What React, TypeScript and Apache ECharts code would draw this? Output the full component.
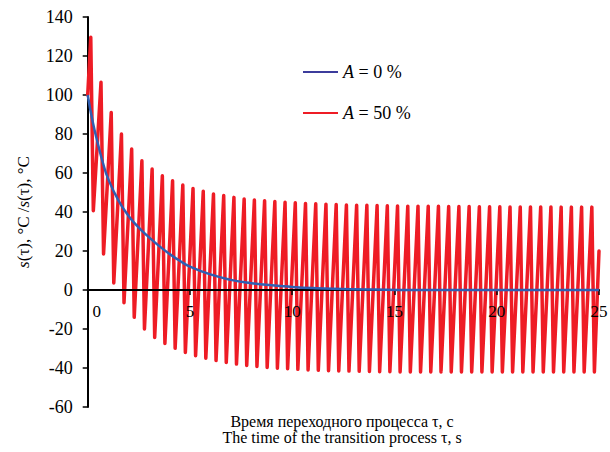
import React, { useEffect, useRef } from "react";
import * as echarts from "echarts";

// Blue curve (A = 0 %), read at these times
const blueTimes = [0, 0.25, 0.5, 0.75, 1, 1.5, 2, 2.5, 3, 3.5, 4, 4.5, 5, 6, 7, 8, 9, 10, 11, 12, 14, 16, 20, 25];
const blueValues = [100, 86, 75, 65, 57, 46, 38, 32, 27, 22.5, 18.5, 15, 12, 8, 5.2, 3.5, 2.4, 1.6, 1.0, 0.6, 0.2, 0, 0, 0];

// Red curve (A = 50 %): extrema
const OSC_PERIOD = 0.5;
const PEAK_PHASE = 0.15;
const TROUGH_PHASE = 0.275;
const redStart = [0, 100];
const redEnd = [25, 20];
const redPeaks = [
  129.6, 106.5, 91, 80, 72.3, 66.3, 62, 58.6, 56, 53.8, 52.1, 50.6, 49.2, 48.4, 47.5, 46.7, 46.2,
  45.8, 45.4, 45, 44.7, 44.4, 44.2, 44, 43.8, 43.6, 43.5, 43.4, 43.3, 43.2, 43.1, 43, 43, 42.9, 42.9,
  42.8, 42.8, 42.8, 42.7, 42.7, 42.7, 42.6, 42.6, 42.6, 42.6, 42.6, 42.5, 42.5, 42.5, 42.5,
];
const redTroughs = [
  40.7, 18.5, 3.6, -6.5, -14, -20, -24.3, -27.4, -29.9, -32, -33.7,
  -35, -36.2, -37.2, -38, -38.7, -39.2, -39.7, -40.1, -40.4, -40.7,
  -41, -41.2, -41.4, -41.5, -41.6, -41.7, -41.8, -41.9, -41.9, -42,
  -42, -42, -42, -42, -42, -42, -42, -42, -42, -42, -42, -42, -42, -42, -42, -42, -42, -42, -42,
];

const xTicks = { min: 0, max: 25, interval: 5 };
const yTicks = { min: -60, max: 140, interval: 20 };

const seriesNames = ["A = 0 %", "A = 50 %"];
const yAxisTitle = "{i|s}(τ), °C /{i|s}(τ), °C";
const xAxisTitle = "Время переходного процесса τ, с\nThe time of the transition process τ, s";

const FONT = "Liberation Serif, serif";

const GRID_TOP = 17;
const GRID_BOTTOM = 45;
const CHART_H = 452;

export default function App() {
  const ref = useRef<HTMLDivElement>(null);
  useEffect(() => {
    document.body.style.margin = "0";
    if (!ref.current) return;
    const chart = echarts.init(ref.current, undefined, { renderer: "svg" });

    const blueData = blueTimes.map((t, i) => [t, blueValues[i]]);
    const redData: number[][] = [redStart];
    redPeaks.forEach((p, k) => {
      redData.push([PEAK_PHASE + OSC_PERIOD * k, p]);
      redData.push([TROUGH_PHASE + OSC_PERIOD * k, redTroughs[k]]);
    });
    redData.push(redEnd);

    // x axis sits at y = 0: lift it from the grid bottom by the share of the range below zero
    const gridH = CHART_H - GRID_TOP - GRID_BOTTOM;
    const zeroLift = (gridH * (0 - yTicks.min)) / (yTicks.max - yTicks.min);

    const labelFont = { fontFamily: FONT, fontStyle: "normal", fontWeight: "normal", color: "#000" };

    chart.setOption({
      animation: false,
      backgroundColor: "#ffffff",
      textStyle: { fontFamily: FONT, color: "#000" },
      grid: {
        left: 87.7,
        right: 11,
        top: GRID_TOP,
        bottom: GRID_BOTTOM,
        containLabel: false,
        outerBoundsMode: "none",
      },
      legend: {
        orient: "vertical",
        left: 298,
        top: 57,
        itemWidth: 35,
        itemHeight: 2,
        itemGap: 21,
        icon: "rect",
        data: seriesNames,
        formatter: (name: string) => name.replace(/^A(.*)$/, "{i|A}{n|$1}"),
        textStyle: {
          ...labelFont,
          fontSize: 18,
          lineHeight: 20,
          rich: {
            i: { ...labelFont, fontStyle: "italic", fontSize: 18, lineHeight: 20 },
            n: { ...labelFont, fontSize: 18, lineHeight: 20 },
          },
        },
      },
      xAxis: {
        type: "value",
        min: xTicks.min,
        max: xTicks.max,
        interval: xTicks.interval,
        position: "bottom",
        offset: -zeroLift,
        z: 10,
        axisLine: { onZero: false, lineStyle: { color: "#000", width: 2 } },
        axisTick: { show: true, length: 5, lineStyle: { color: "#000", width: 1.5 } },
        splitLine: { show: false },
        axisLabel: {
          margin: 13,
          ...labelFont,
          fontSize: 17,
          formatter: (v: number) => (v === 0 ? "{z|0}" : "{n|" + v + "}"),
          rich: {
            z: { ...labelFont, padding: [0, 0, 0, 18], fontSize: 17 },
            n: { ...labelFont, fontSize: 17 },
          },
        },
      },
      yAxis: {
        type: "value",
        min: yTicks.min,
        max: yTicks.max,
        interval: yTicks.interval,
        axisLine: { show: true, lineStyle: { color: "#000", width: 2 } },
        axisTick: { show: true, length: 5, lineStyle: { color: "#000", width: 1.5 } },
        splitLine: { show: false },
        axisLabel: {
          margin: 15,
          ...labelFont,
          fontSize: 18,
          formatter: (v: number) => "{n|" + v + "}",
          rich: { n: { ...labelFont, fontSize: 18 } },
        },
        name: yAxisTitle,
        nameLocation: "middle",
        nameRotate: 90,
        nameGap: 56,
        nameTextStyle: {
          ...labelFont,
          fontSize: 17,
          rich: { i: { ...labelFont, fontStyle: "italic", fontSize: 17 } },
        },
      },
      graphic: [
        {
          type: "text",
          x: 342,
          y: 429,
          style: {
            text: xAxisTitle,
            fontFamily: FONT,
            fontSize: 16,
            lineHeight: 16,
            fill: "#000",
            textAlign: "center",
            textVerticalAlign: "middle",
          },
        },
      ],
      series: [
        {
          name: seriesNames[1],
          type: "line",
          data: redData,
          showSymbol: false,
          symbol: "none",
          smooth: false,
          lineStyle: { color: "#ee1c25", width: 3.5, join: "round", cap: "round" },
          itemStyle: { color: "#ee1c25" },
          z: 2,
        },
        {
          name: seriesNames[0],
          type: "line",
          data: blueData,
          showSymbol: false,
          symbol: "none",
          smooth: true,
          lineStyle: { color: "#2f5fb3", width: 2.5 },
          itemStyle: { color: "#3c3c9c" },
          z: 11,
        },
      ],
    });
    return () => chart.dispose();
  }, []);
  return <div ref={ref} style={{ width: 610, height: 452 }} />;
}
